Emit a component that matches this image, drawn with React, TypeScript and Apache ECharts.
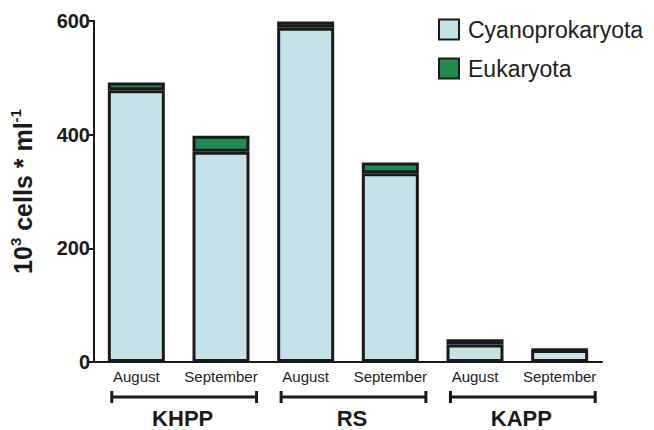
import React, { useEffect, useRef } from "react";
import * as echarts from "echarts";

const categories = ["August", "September", "August", "September", "August", "September"];
const groups = ["KHPP", "RS", "KAPP"];
const cyanoprokaryota = [478, 370, 588, 332, 31, 21];
const eukaryota = [14, 28, 11, 19, 9, 1];
const yTicks = { min: 0, max: 600, interval: 200 };

const FONT = '"Liberation Sans", Arial, sans-serif';
const INK = "#1a1a1a";

export default function App() {
  const ref = useRef<HTMLDivElement>(null);
  useEffect(() => {
    if (!ref.current) return;
    const chart = echarts.init(ref.current, null, { renderer: "svg" });
    chart.setOption({
      animation: false,
      backgroundColor: "#ffffff",
      textStyle: { fontFamily: FONT },
      grid: { left: 89, right: 52, top: 21, bottom: 68, containLabel: false },
      legend: {
        orient: "vertical",
        left: 433,
        top: 13,
        itemWidth: 20,
        itemHeight: 20,
        itemGap: 16,
        icon: "rect",
        textStyle: { fontSize: 23, color: "#222", fontFamily: FONT, padding: [0, 0, 0, 4] },
        data: ["Cyanoprokaryota", "Eukaryota"],
      },
      xAxis: {
        type: "category",
        data: categories,
        axisLine: { lineStyle: { color: INK, width: 2 } },
        axisTick: { alignWithLabel: true, length: 6, lineStyle: { color: INK, width: 2 } },
        axisLabel: { interval: 0, fontSize: 15, color: "#222", margin: 7, fontFamily: FONT },
      },
      yAxis: {
        type: "value",
        min: yTicks.min,
        max: yTicks.max,
        interval: yTicks.interval,
        splitLine: { show: false },
        axisLine: { show: true, lineStyle: { color: INK, width: 2 } },
        axisTick: { show: true, length: 5, lineStyle: { color: INK, width: 2 } },
        axisLabel: { fontSize: 20, fontWeight: "bold", color: INK, margin: 4, fontFamily: FONT },
        name: "{b|10}{sup|3}{b| cells * ml}{sup|-1}",
        nameLocation: "middle",
        nameRotate: 90,
        nameGap: 57,
        nameTextStyle: {
          rich: {
            b: { fontSize: 25, fontWeight: "bold", color: INK, fontFamily: FONT },
            sup: { fontSize: 15, fontWeight: "bold", color: INK, fontFamily: FONT, padding: [0, 0, 14, 0] },
          },
        },
      },
      series: [
        {
          name: "Cyanoprokaryota",
          type: "bar",
          stack: "total",
          barWidth: 57,
          data: cyanoprokaryota,
          itemStyle: { color: "#c4e2e7", borderColor: INK, borderWidth: 3 },
        },
        {
          name: "Eukaryota",
          type: "bar",
          stack: "total",
          barWidth: 57,
          data: eukaryota,
          itemStyle: { color: "#22894f", borderColor: INK, borderWidth: 3 },
        },
      ],
    });

    const c = categories.map((_, i) => chart.convertToPixel({ xAxisIndex: 0 }, i) as number);
    const band = c[1] - c[0];
    const y0 = chart.convertToPixel({ yAxisIndex: 0 }, 0) as number;
    const by = y0 + 35;
    const graphics: any[] = [];
    groups.forEach((g, gi) => {
      const a = c[gi * 2] - band * 0.29;
      const b = c[gi * 2 + 1] + band * 0.42;
      const style = { stroke: INK, lineWidth: 3 };
      graphics.push({ type: "line", shape: { x1: a, y1: by, x2: b, y2: by }, style });
      graphics.push({ type: "line", shape: { x1: a, y1: by - 6, x2: a, y2: by + 6 }, style });
      graphics.push({ type: "line", shape: { x1: b, y1: by - 6, x2: b, y2: by + 6 }, style });
      graphics.push({
        type: "text",
        x: (c[gi * 2] + c[gi * 2 + 1]) / 2 + 4,
        y: by + 21,
        style: {
          text: g,
          fontSize: 22,
          fontWeight: "bold",
          fill: INK,
          fontFamily: FONT,
          align: "center",
          verticalAlign: "middle",
        },
      });
    });
    chart.setOption({ graphic: graphics });
    return () => chart.dispose();
  }, []);
  return <div ref={ref} style={{ width: 654, height: 430, position: "absolute", left: 0, top: 0 }} />;
}
